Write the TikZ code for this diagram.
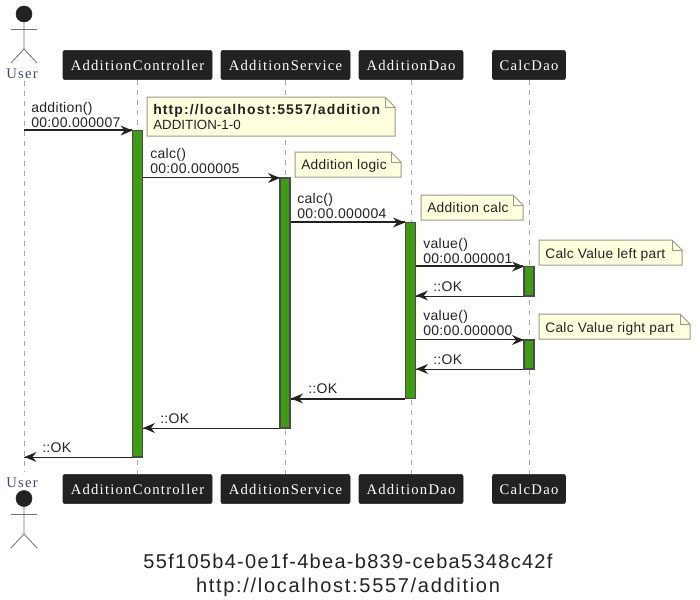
\documentclass[tikz,border=0pt]{standalone}
\usepackage{xcolor}
\usepackage{fontspec}
\setmainfont[LetterSpace=2.3]{Liberation Sans}
\newfontfamily\partfont[LetterSpace=8.4]{Liberation Serif}
\newfontfamily\urlfont[LetterSpace=8,BoldFont={Liberation Sans Bold}]{Liberation Sans}
\newfontfamily\titlefont[LetterSpace=6.5]{Liberation Sans}
\newfontfamily\titlefontb[LetterSpace=8.5]{Liberation Sans}
\newfontfamily\plainfont{Liberation Sans}
\definecolor{partdark}{HTML}{222222}
\definecolor{barfill}{HTML}{3F9A16}
\definecolor{barline}{HTML}{4A4A4A}
\definecolor{notefill}{HTML}{FEFFDD}
\definecolor{noteline}{HTML}{9A9A8C}
\definecolor{userblue}{HTML}{3A4A68}
\usetikzlibrary{positioning}
\begin{document}
\begin{tikzpicture}[x=0.75pt,y=-0.75pt,
  partbox/.style={fill=partdark,draw=partdark,rounded corners=1.5pt,minimum height=22pt,inner sep=0pt,text=white,font=\partfont\fontsize{11}{12}\selectfont},
  actlabel/.style={text=userblue,inner sep=0pt,font=\partfont\fontsize{11}{12}\selectfont},
  actbar/.style={fill=barfill,draw=barline,line width=0.8pt,minimum width=7.5pt,inner sep=0pt},
  lifeline/.style={draw=gray!70,line width=0.75pt,dash pattern=on 3.75pt off 3.75pt},
  msg/.style={draw=partdark,line width=1.2pt},
  msgtext/.style={anchor=south west,align=left,inner sep=0pt,text=partdark,font=\fontsize{10.5}{11.25}\selectfont},
  notetext/.style={anchor=west,align=left,inner sep=0pt,text=partdark,font=\fontsize{10.3}{12}\selectfont},
  limb/.style={draw=barline!80,line width=0.6pt}]
\useasboundingbox (0,0) rectangle (700,600);

% participants, top and bottom
\foreach \nm/\txt/\xa/\bw in {ac/AdditionController/137.5/149,as/AdditionService/285.5/129,ad/AdditionDao/411/104,cd/CalcDao/529/73}
{ \node [partbox,minimum width=\bw*0.75pt] (\nm top) at (\xa,65) {\txt};
  \node [partbox,minimum width=\bw*0.75pt] (\nm bot) at (\xa,489) {\txt};
  \draw [lifeline] (\nm top) -- (\nm bot); }

% actor
\node [actlabel] (usertop) at (22,74) {User};
\node [actlabel] (userbot) at (22,483) {User};
\draw [lifeline] (24,81) coordinate (ustart) -- (24,472) coordinate (uend);
\node [circle,fill=partdark,draw=partdark,minimum size=12pt,inner sep=0pt] (headtop) at (24,14) {};
\node [circle,fill=partdark,draw=partdark,minimum size=12pt,inner sep=0pt] (headbot) at (24,498.5) {};
\draw [limb] (headtop) -- (24,49) coordinate (hiptop) -- (11,63);
\draw [limb] (hiptop) -- (37,63);
\draw [limb] (11,29) -- (37,29);
\draw [limb] (headbot) -- (24,534) coordinate (hipbot) -- (11,548);
\draw [limb] (hipbot) -- (37,548);
\draw [limb] (11,514) -- (37,514);

% activation bars
\foreach \nm/\xa/\ya/\yb in {barac/137.5/130.5/457,baras/285/178/428,barad/410.5/222.5/398.5,barcl/529/266.5/296,barcr/529/340/369}
{ \node [actbar,minimum height=(\yb-\ya)*0.75pt] (\nm) at (\xa,{(\ya+\yb)/2}) {}; }

% messages
\coordinate (ucall) at (ustart |- barac.north);
\coordinate (uback) at (ustart |- barac.south);
\draw [msg] (ucall) -- (barac.north west);
\draw [msg] (barac.east |- baras.north) -- (baras.north west);
\draw [msg] (baras.east |- barad.north) -- (barad.north west);
\draw [msg] (barad.east |- barcl.north) -- (barcl.north west);
\draw [msg] (barad.east |- barcr.north) -- (barcr.north west);
\draw [msg] (barcl.south west) -- (barad.east |- barcl.south);
\draw [msg] (barcr.south west) -- (barad.east |- barcr.south);
\draw [msg] (barad.south west) -- (baras.east |- barad.south);
\draw [msg] (baras.south west) -- (barac.east |- baras.south);
\draw [msg] (barac.south west) -- (uback);
\foreach \tipx/\tipy/\sgn in {132.5/130.5/1,280/178/1,405/222.5/1,524/266.5/1,524/340/1,416/295.5/-1,416/369/-1,291/398.5/-1,143/428/-1,24.5/457/-1}
{ \fill [partdark] (\tipx,\tipy) -- ++(-\sgn*12,-5) -- ++(\sgn*4,5) -- ++(-\sgn*4,5) -- cycle; }

% message labels
\foreach \xa/\yb/\txt in {31/128/{addition()\\00:00.000007},150/174/{calc()\\00:00.000005},297/219/{calc()\\00:00.000004},423/264/{value()\\00:00.000001},423/336/{value()\\00:00.000000},433/292/{::OK},433/365/{::OK},308/394/{::OK},160/424/{::OK},42/453/{::OK}}
{ \node [msgtext] at (\xa,\yb) {\txt}; }

% notes
\foreach \nm/\xa/\ya/\xb/\yb in {noa/147/97/395/136,nob/295/152/401/177,noc/421/195/523/220,nod/539/240/682/265,noe/539/314/690/339}
{ \draw [fill=notefill,draw=noteline,line width=0.75pt] (\xa,\ya) -- (\xb-10,\ya) -- (\xb,\ya+10) -- (\xb,\yb) -- (\xa,\yb) -- cycle;
  \draw [draw=noteline,line width=0.75pt] (\xb-10,\ya) -- (\xb-10,\ya+10) -- (\xb,\ya+10); }
\node [notetext] at (153,111) {\urlfont\fontsize{10.5}{12}\selectfont\bfseries http://localhost:5557/addition};
\node [notetext] at (153,125) {\plainfont\fontsize{10}{12}\selectfont ADDITION-1-0};
\node [notetext] at (301,166) {Addition logic};
\node [notetext] at (427,208) {Addition calc};
\node [notetext] at (545,255) {Calc Value left part};
\node [notetext] at (545,329) {Calc Value right part};

% title
\node [inner sep=0pt,text=partdark,font=\fontsize{15}{18}\selectfont,align=center] (title) at (348,575.5) {\titlefont 55f105b4-0e1f-4bea-b839-ceba5348c42f\\\titlefontb http://localhost:5557/addition};
\end{tikzpicture}
\end{document}
